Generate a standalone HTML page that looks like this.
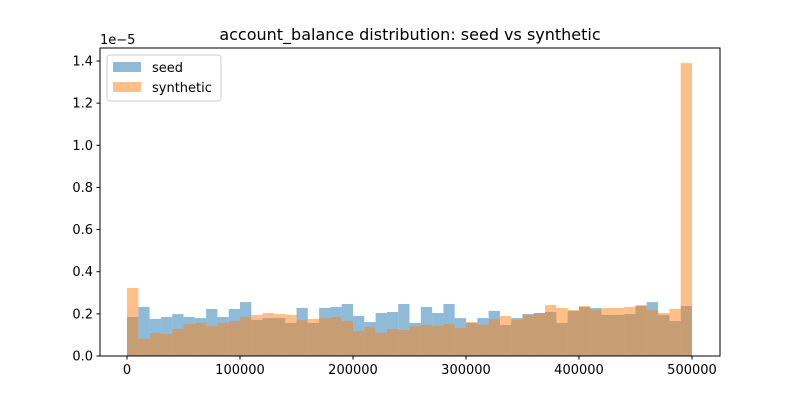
<!DOCTYPE html>
<html><head><meta charset="utf-8"><style>
body{margin:0;background:#fff;}
svg text{font-family:"DejaVu Sans","Liberation Sans",sans-serif;}
</style></head><body>
<svg id="chart" width="800" height="400" viewBox="0 0 800 400">
<rect width="800" height="400" fill="#fff"/>
<text x="410" y="40" font-size="16" text-anchor="middle">account_balance distribution: seed vs synthetic</text>
<g id="bars"></g>
<g id="axes"></g>
</svg>
<script>
const binStart = 0;
const binWidth = 10000;
const seedValues = [0.185,0.233,0.176,0.185,0.199,0.185,0.180,0.223,0.185,0.223,0.256,0.171,0.180,0.180,0.157,0.228,0.157,0.228,0.233,0.247,0.190,0.161,0.204,0.209,0.247,
0.157,0.233,0.204,0.247,0.180,0.157,0.180,0.214,0.147,0.180,0.199,0.204,0.209,0.157,0.214,0.233,0.228,0.195,0.195,0.199,0.237,0.256,0.195,0.166,0.237];
const synthValues = [0.323,0.081,0.109,0.104,0.128,0.152,0.157,0.142,0.157,0.166,0.185,0.195,0.204,0.199,0.195,0.171,0.176,0.180,0.185,0.166,0.119,0.138,0.109,0.128,0.123,
0.142,0.147,0.142,0.152,0.133,0.161,0.147,0.176,0.190,0.171,0.195,0.204,0.242,0.228,0.218,0.237,0.218,0.228,0.228,0.233,0.242,0.218,0.204,0.223,1.39];
const yTicks = [0.0,0.2,0.4,0.6,0.8,1.0,1.2,1.4];
const xTicks = [0,100000,200000,300000,400000,500000];

const L=100,R=720,T=48,B=356;
const xS=v=>127+(v-0)*(692-127)/500000;
const yS=v=>B-v*(B-61)/1.4;
const NS='http://www.w3.org/2000/svg';
function mk(tag,attrs,parent){const e=document.createElementNS(NS,tag);for(const k in attrs)e.setAttribute(k,attrs[k]);parent.appendChild(e);return e;}
const bars=document.getElementById('bars');
const axes=document.getElementById('axes');
seedValues.forEach((v,i)=>{
  const x0=xS(binStart+i*binWidth),x1=xS(binStart+(i+1)*binWidth);
  const r=mk('rect',{x:x0,y:yS(v),width:x1-x0,height:B-yS(v),fill:'#1f77b4','fill-opacity':0.5},bars);
  
  
});
synthValues.forEach((v,i)=>{
  const x0=xS(binStart+i*binWidth),x1=xS(binStart+(i+1)*binWidth);
  const r=mk('rect',{x:x0,y:yS(v),width:x1-x0,height:B-yS(v),fill:'#ff7f0e','fill-opacity':0.5},bars);
  
  
});
mk('rect',{x:L,y:T,width:R-L,height:B-T,fill:'none',stroke:'#000','stroke-width':1},axes);
yTicks.forEach(t=>{
  const y=yS(t);
  mk('line',{x1:L-3.5,x2:L,y1:y,y2:y,stroke:'#000'},axes);
  const tx=mk('text',{x:L-7,y:y+4.5,'font-size':13,'text-anchor':'end'},axes);
  tx.textContent=t.toFixed(1);
  
  
});
xTicks.forEach(t=>{
  const x=xS(t);
  mk('line',{x1:x,x2:x,y1:B,y2:B+3.5,stroke:'#000'},axes);
  const tx=mk('text',{x:x,y:B+18,'font-size':13,'text-anchor':'middle'},axes);
  tx.textContent=String(t);
  
  
});
const off=mk('text',{x:100,y:44,'font-size':13},axes);
off.textContent='1e\u22125';


const lg=mk('g',{},axes);


mk('rect',{x:107,y:55,width:114,height:46,rx:3,fill:'#fff','fill-opacity':0.8,stroke:'#ccc'},lg);
mk('rect',{x:113,y:62,width:28,height:10,fill:'#1f77b4','fill-opacity':0.5},lg);
mk('rect',{x:113,y:82,width:28,height:10,fill:'#ff7f0e','fill-opacity':0.5},lg);
const l1=mk('text',{x:152,y:72,'font-size':13},lg);l1.textContent='seed';


const l2=mk('text',{x:152,y:92,'font-size':13},lg);l2.textContent='synthetic';


</script>
</body></html>
